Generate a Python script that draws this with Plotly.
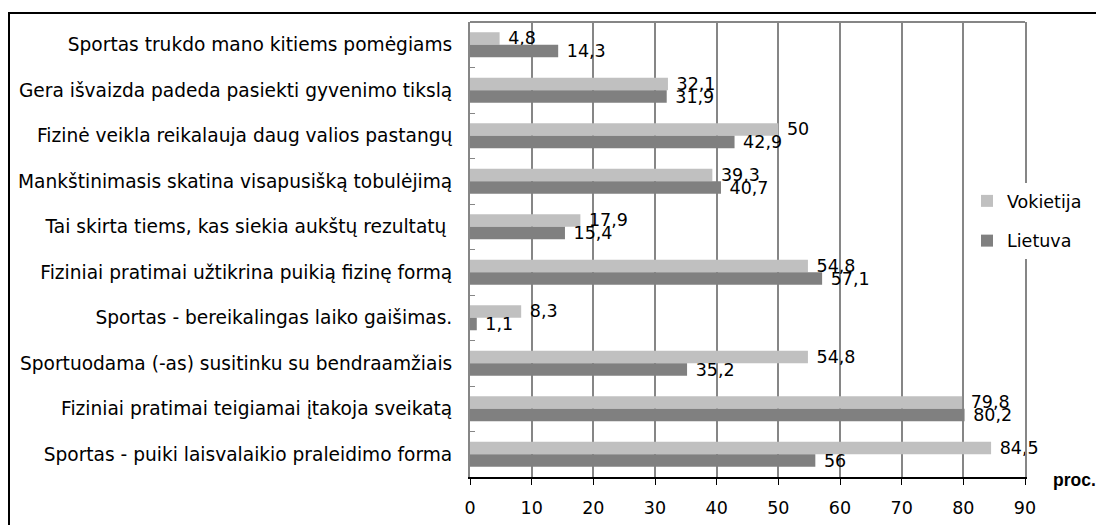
import plotly.graph_objects as go

categories = [
    "Sportas trukdo mano kitiems pomėgiams",
    "Gera išvaizda padeda pasiekti gyvenimo tikslą",
    "Fizinė veikla reikalauja daug valios pastangų",
    "Mankštinimasis skatina visapusišką tobulėjimą",
    "Tai skirta tiems, kas siekia aukštų rezultatų ",
    "Fiziniai pratimai užtikrina puikią fizinę formą",
    "Sportas - bereikalingas laiko gaišimas.",
    "Sportuodama (-as) susitinku su bendraamžiais",
    "Fiziniai pratimai teigiamai įtakoja sveikatą",
    "Sportas - puiki laisvalaikio praleidimo forma",
]
vokietija = [4.8, 32.1, 50, 39.3, 17.9, 54.8, 8.3, 54.8, 79.8, 84.5]
lietuva = [14.3, 31.9, 42.9, 40.7, 15.4, 57.1, 1.1, 35.2, 80.2, 56]
x_ticks = [0, 10, 20, 30, 40, 50, 60, 70, 80, 90]

FONT = "DejaVu Sans, Liberation Sans, Arial, sans-serif"
FS = 17.5
FS_CAT = 18.6


def fmt(v):
    return " " + f"{v:g}".replace(".", ",")


fig = go.Figure()
for name, vals, color in [("Vokietija", vokietija, "#C0C0C0"), ("Lietuva", lietuva, "#808080")]:
    fig.add_trace(go.Bar(
        name=name, y=categories, x=vals, orientation="h",
        marker=dict(color=color, line=dict(width=0)),
        text=[fmt(v) for v in vals], textposition="outside",
        textfont=dict(family=FONT, size=FS, color="black"),
        constraintext="none", cliponaxis=False, legendgroup=name,
    ))

# page body offset of the html (8px)
OFF = 8
W, H = 1104 - OFF, 525 - OFF
L, R, T, B = 470, 1025, 22, 477  # plot area in window pixels
pw, ph = R - L, B - T

def px_x(x):
    return (x - L) / pw

def px_y(y):
    return (B - y) / ph

fig.update_layout(
    width=W, height=H,
    margin=dict(l=L - OFF, r=W - (R - OFF), t=T - OFF, b=H - (B - OFF), pad=0),
    paper_bgcolor="white", plot_bgcolor="white",
    barmode="group", bargap=0.45, bargroupgap=0,
    font=dict(family=FONT, size=FS, color="black"),
    showlegend=True,
    legend=dict(
        x=px_x(967), y=px_y(183), xanchor="left", yanchor="top",
        bgcolor="white", font=dict(family=FONT, size=FS, color="black"),
        traceorder="grouped", tracegroupgap=14,
    ),
    xaxis=dict(
        range=[0, 90], tickvals=x_ticks, ticktext=[str(t) for t in x_ticks],
        showgrid=True, gridcolor="#868686", gridwidth=2,
        showline=True, linecolor="black", linewidth=2,
        ticks="outside", ticklen=6, tickcolor="black", tickwidth=1,
        ticklabelstandoff=8, zeroline=False, automargin=False,
        tickfont=dict(family=FONT, size=FS, color="black"),
        fixedrange=True,
    ),
    yaxis=dict(
        autorange="reversed", type="category",
        showline=True, linecolor="#868686", linewidth=2, mirror=True,
        ticks="inside", tickson="boundaries", ticklen=5, tickcolor="#868686",
        ticklabelstandoff=12, showgrid=False, automargin=False,
        tickfont=dict(family=FONT, size=FS_CAT, color="black"),
        fixedrange=True,
    ),
    shapes=[
        dict(type="line", xref="paper", yref="paper", x0=0, x1=1, y0=1, y1=1,
             line=dict(color="#868686", width=2)),
        dict(type="rect", xref="paper", yref="paper",
             x0=px_x(9), x1=px_x(1200), y0=px_y(620), y1=px_y(13),
             line=dict(color="black", width=2), fillcolor="rgba(0,0,0,0)", layer="above"),
    ],
    annotations=[
        dict(text="<b>proc.</b>", xref="paper", yref="paper", x=px_x(1051), y=px_y(480),
             xanchor="left", yanchor="middle", showarrow=False,
             font=dict(family="Liberation Sans, Arial, sans-serif", size=FS, color="black")),
    ],
)

fig.write_html("out.html")
